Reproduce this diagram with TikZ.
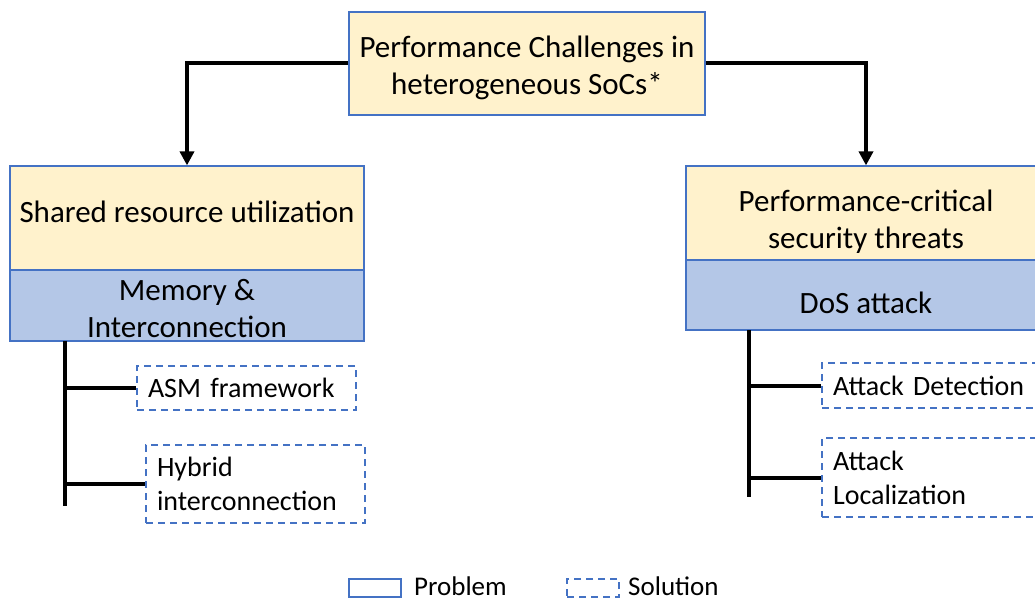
\documentclass[tikz,border=0pt]{standalone}
\usepackage{fontspec}
\setmainfont{Carlito}
\usetikzlibrary{arrows.meta}
\definecolor{pyel}{HTML}{FFF2CC}
\definecolor{pblue}{HTML}{B4C7E7}
\definecolor{pedge}{HTML}{4472C4}
\tikzset{
  x=1pt,y=-1pt,
  prob/.style={draw=pedge,line width=1.2pt,fill=pyel,inner sep=0pt,align=center,font=\fontsize{31}{37}\selectfont},
  probb/.style={prob,fill=pblue},
  sol/.style={draw=pedge,line width=1.8pt,dash pattern=on 7pt off 5pt,inner xsep=11pt,inner ysep=0pt,align=left,font=\fontsize{28}{34}\selectfont},
  conn/.style={line width=4pt},
  arr/.style={conn,-{Triangle[width=14pt,length=14pt]}},
  lbl/.style={inner sep=0pt,align=center,font=\fontsize{31}{37}\selectfont},
  leg/.style={anchor=west,inner sep=0pt,font=\fontsize{27}{32}\selectfont},
}
\begin{document}
\begin{tikzpicture}
\useasboundingbox (0,0) rectangle (1035,601);
\begin{scope}
\clip (0,0) rectangle (1035,601);
\node[prob,minimum width=356,minimum height=103] (top) at (527,63.5) {};
\node[lbl] (topt) at (527,67.5) {Performance Challenges in\\heterogeneous SoCs*};
\node[prob,minimum width=354,minimum height=104] (ly) at (187,218) {};
\node[lbl] (lyt) at (187,212) {Shared resource utilization};
\node[probb,minimum width=354,minimum height=71] (lb) at (187,305.5) {};
\node[lbl] (lbt) at (187,308.5) {Memory \&\\Interconnection};
\node[prob,minimum width=360,minimum height=94] (ry) at (866,213) {};
\node[lbl] (ryt) at (866,222) {Performance-critical\\security threats};
\node[probb,minimum width=360,minimum height=70] (rb) at (866,295) {};
\node[lbl] (rbt) at (866,303) {DoS attack};
\node[sol,text width=197,minimum height=44] (asm) at (246.5,388) {ASM framework};
\node[sol,text width=197,minimum height=78] (hyb) at (255.5,484) {Hybrid\\interconnection};
\node[sol,text width=196,minimum height=45] (det) at (931,385.5) {Attack Detection};
\node[sol,text width=196,minimum height=79] (loc) at (931,477.5) {Attack\\Localization};
\end{scope}
\draw[arr] (top.west) -| (ly.north);
\draw[arr] (top.east) -| (ry.north);
\coordinate (lt) at (65,341);
\coordinate (le) at (65,506);
\coordinate (rt) at (749,330);
\coordinate (re) at (749,497);
\draw[conn] (lt) -- (le);
\draw[conn] (rt) -- (re);
\draw[conn] (asm.west -| lt) -- (asm.west);
\draw[conn] (hyb.west -| lt) -- (hyb.west);
\draw[conn] (det.west -| rt) -- (det.west);
\draw[conn] (loc.west -| rt) -- (loc.west);
\node[draw=pedge,line width=1.2pt,minimum width=52,minimum height=18,inner sep=0pt] (lp) at (375,588) {};
\node[leg] (lpt) at (414,586) {Problem};
\node[draw=pedge,line width=1.8pt,dash pattern=on 7pt off 5pt,minimum width=52,minimum height=18,inner sep=0pt] (ls) at (593,588) {};
\node[leg] (lst) at (628,586) {Solution};
\end{tikzpicture}
\end{document}
